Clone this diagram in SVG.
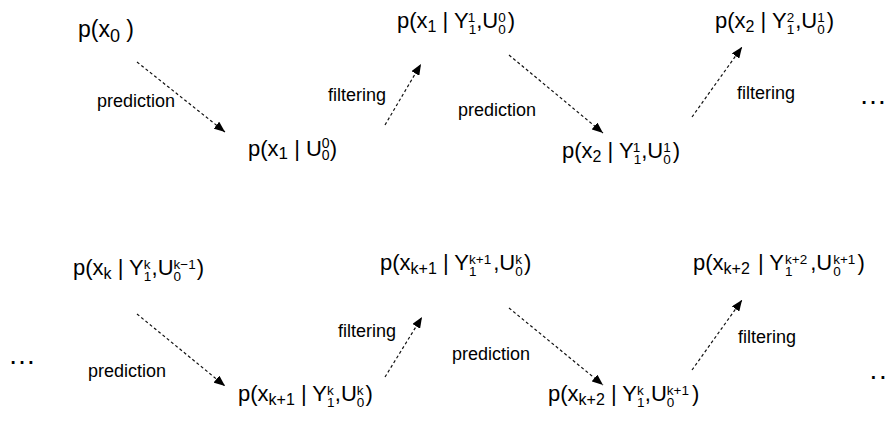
<svg xmlns="http://www.w3.org/2000/svg" width="888" height="422" viewBox="0 0 888 422">
<defs>
<marker id="ah" markerUnits="userSpaceOnUse" markerWidth="12" markerHeight="9" refX="11" refY="4.5" orient="auto">
<path d="M0,0 L11,4.5 L0,9 z" fill="#000"/>
</marker>
<style>
text{font-family:"Liberation Sans",Arial,sans-serif;fill:#000}
.m{font-size:22px}
.xs{font-size:16px}
.s{font-size:13.5px}
.lbl{font-size:18px}
.dots{font-size:28px}
.e{fill:none;stroke:#111;stroke-width:1.2;stroke-dasharray:3 2.5;marker-end:url(#ah)}
</style>
</defs>
<g id="connectors">
<line class="e" x1="137" y1="62" x2="225" y2="132"/>
<line class="e" x1="385" y1="125" x2="421" y2="64"/>
<line class="e" x1="509" y1="55" x2="603" y2="133"/>
<line class="e" x1="692" y1="117" x2="742" y2="47"/>
<line class="e" x1="137" y1="314" x2="225" y2="386"/>
<line class="e" x1="385" y1="377" x2="422" y2="317"/>
<line class="e" x1="509" y1="308" x2="603" y2="385"/>
<line class="e" x1="692" y1="370" x2="742" y2="300"/>
</g>
<g id="labels">
<text class="lbl" x="97" y="107">prediction</text>
<text class="lbl" x="328" y="101">filtering</text>
<text class="lbl" x="458" y="116">prediction</text>
<text class="lbl" x="737" y="99">filtering</text>
<text class="lbl" x="88" y="377">prediction</text>
<text class="lbl" x="338" y="337">filtering</text>
<text class="lbl" x="452" y="360">prediction</text>
<text class="lbl" x="738" y="343">filtering</text>
</g>
<g id="ellipses">
<text class="dots" x="859" y="104">…</text>
<text class="dots" x="8" y="364">…</text>
<text class="dots" x="869.5" y="379" style="letter-spacing:1.7px">..</text>
</g>
<g id="n0">
<text x="78" y="37" style="font-size:23px">p(x<tspan dy="5" style="font-size:18px">0</tspan><tspan dy="-5"> )</tspan></text>
</g>
<g id="n1">
<text x="248" y="156" style="font-size:22px">p(x<tspan dy="3" style="font-size:17px">1</tspan><tspan dy="-3"> | U</tspan><tspan dy="4" style="font-size:14px">0</tspan><tspan dx="-7.8" dy="-12" style="font-size:14px">0</tspan><tspan dy="8">)</tspan></text>
</g>
<g id="n2">
<text class="m" x="397" y="28">p(x<tspan class="xs" dy="4">1</tspan><tspan dy="-4"> | Y</tspan><tspan class="s" dy="6">1</tspan><tspan class="s" dx="-7.5" dy="-12">1</tspan><tspan dx="1" dy="6">,U</tspan><tspan class="s" dy="6">0</tspan><tspan class="s" dx="-7.5" dy="-12">0</tspan><tspan dx="2" dy="6">)</tspan></text>
</g>
<g id="n3">
<text class="m" x="562" y="158">p(x<tspan class="xs" dy="4">2</tspan><tspan dy="-4"> | Y</tspan><tspan class="s" dy="6">1</tspan><tspan class="s" dx="-7.5" dy="-12">1</tspan><tspan dx="1" dy="6">,U</tspan><tspan class="s" dy="6">0</tspan><tspan class="s" dx="-7.5" dy="-12">1</tspan><tspan dx="2" dy="6">)</tspan></text>
</g>
<g id="n4">
<text class="m" x="715" y="28">p(x<tspan class="xs" dy="4">2</tspan><tspan dy="-4"> | Y</tspan><tspan class="s" dy="6">1</tspan><tspan class="s" dx="-7.5" dy="-12">2</tspan><tspan dx="1" dy="6">,U</tspan><tspan class="s" dy="6">0</tspan><tspan class="s" dx="-7.5" dy="-12">1</tspan><tspan dx="2" dy="6">)</tspan></text>
</g>
<g id="n5">
<text class="m" x="73" y="275">p(x<tspan class="xs" dy="4">k</tspan><tspan dy="-4"> | Y</tspan><tspan class="s" dy="6">1</tspan><tspan class="s" dx="-7.5" dy="-12">k</tspan><tspan dx="1" dy="6">,U</tspan><tspan class="s" dy="6">0</tspan><tspan class="s" dx="-7.5" dy="-12">k−1</tspan><tspan dx="1" dy="6">)</tspan></text>
</g>
<g id="n6">
<text class="m" x="380" y="270">p(x<tspan class="xs" dy="4">k+1</tspan><tspan dy="-4"> | Y</tspan><tspan class="s" dy="6">1</tspan><tspan class="s" dx="-7.5" dy="-12">k+1</tspan><tspan dx="2" dy="6">,U</tspan><tspan class="s" dy="6">0</tspan><tspan class="s" dx="-7.5" dy="-12">k</tspan><tspan dx="2" dy="6">)</tspan></text>
</g>
<g id="n7">
<text class="m" x="693" y="270">p(x<tspan class="xs" dy="4">k+2</tspan><tspan dx="2" dy="-4"> | Y</tspan><tspan class="s" dx="1" dy="6">1</tspan><tspan class="s" dx="-7.5" dy="-12">k+2</tspan><tspan dx="3" dy="6">,U</tspan><tspan class="s" dx="1" dy="6">0</tspan><tspan class="s" dx="-7.5" dy="-12">k+1</tspan><tspan dx="2" dy="6">)</tspan></text>
</g>
<g id="n8">
<text class="m" x="238" y="401">p(x<tspan class="xs" dy="4">k+1</tspan><tspan dy="-4"> | Y</tspan><tspan class="s" dy="6">1</tspan><tspan class="s" dx="-7.5" dy="-12">k</tspan><tspan dx="1" dy="6">,U</tspan><tspan class="s" dy="6">0</tspan><tspan class="s" dx="-7.5" dy="-12">k</tspan><tspan dx="2" dy="6">)</tspan></text>
</g>
<g id="n9">
<text class="m" x="548" y="401">p(x<tspan class="xs" dy="4">k+2</tspan><tspan dy="-4"> | Y</tspan><tspan class="s" dy="6">1</tspan><tspan class="s" dx="-7.5" dy="-12">k</tspan><tspan dx="1" dy="6">,U</tspan><tspan class="s" dy="6">0</tspan><tspan class="s" dx="-7.5" dy="-12">k+1</tspan><tspan dx="3" dy="6">)</tspan></text>
</g>
</svg>
